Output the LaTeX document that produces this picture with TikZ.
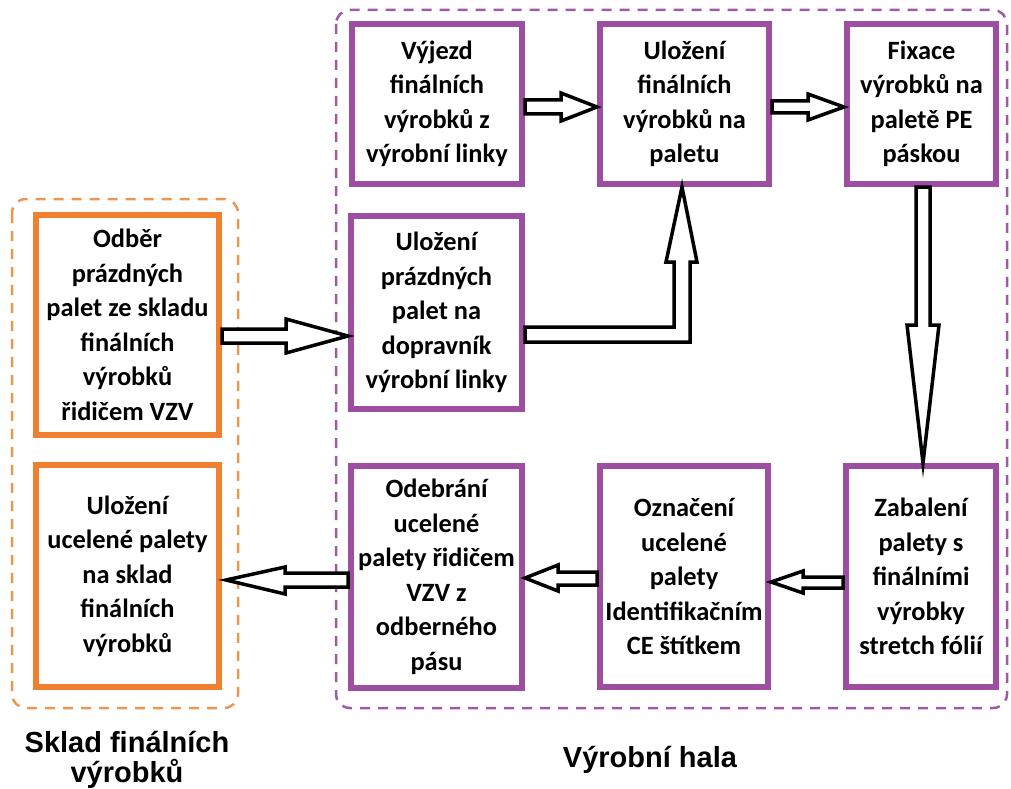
\documentclass[tikz,border=0pt]{standalone}
\usepackage{fontspec}
\usetikzlibrary{calc}
\setmainfont{Carlito}
\newfontfamily\labelfont{Liberation Sans}
\definecolor{boxpurple}{RGB}{157,78,160}
\definecolor{boxorange}{RGB}{240,128,48}
\definecolor{dashpurple}{RGB}{160,90,165}
\definecolor{dashorange}{RGB}{236,150,80}
\begin{document}
\begin{tikzpicture}[x=1pt,y=-1pt,
  stepbox/.style={draw=#1, line width=6pt, fill=white, inner sep=0pt, align=center,
    font=\bfseries\fontsize{26.4}{34.5}\selectfont},
  pbox/.style={stepbox=boxpurple},
  obox/.style={stepbox=boxorange},
  zone/.style={draw=#1, line width=2.5pt, dash pattern=on 10pt off 8pt, rounded corners=14pt},
  blockarrow/.style={draw=black, line width=3.5pt, fill=white, line join=miter, miter limit=20},
  zonelabel/.style={font=\labelfont\bfseries\fontsize{29}{30}\selectfont, align=center, inner sep=0pt}
]
\useasboundingbox (0,0) rectangle (1011,789);

% zones
\draw[zone=dashorange] (12,199) rectangle (238,708);
\draw[zone=dashpurple] (336,10) rectangle (1007,708);

% boxes
\node[obox, minimum width=183pt, minimum height=220pt] (A) at (127.5,325) {Odběr\\prázdných\\palet ze skladu\\finálních\\výrobků\\řidičem VZV};
\node[obox, minimum width=183pt, minimum height=222pt] (B) at (127.5,576) {Uložení\\ucelené palety\\na sklad\\finálních\\výrobků};
\node[pbox, minimum width=170pt, minimum height=160pt] (C) at (437,104) {Výjezd\\finálních\\výrobků z\\výrobní linky};
\node[pbox, minimum width=169pt, minimum height=160pt] (D) at (684.5,104) {Uložení\\finálních\\výrobků na\\paletu};
\node[pbox, minimum width=149pt, minimum height=160pt] (E) at (921.5,104) {Fixace\\výrobků na\\paletě PE\\páskou};
\node[pbox, minimum width=171pt, minimum height=193pt] (F) at (436.5,312.5) {Uložení\\prázdných\\palet na\\dopravník\\výrobní linky};
\node[pbox, minimum width=171pt, minimum height=222pt] (G) at (436.5,577) {Odebrání\\ucelené\\palety řidičem\\VZV z\\odberného\\pásu};
\node[pbox, minimum width=168pt, minimum height=221pt] (H) at (684,576.5) {Označení\\ucelené\\palety\\Identifikačním\\CE štítkem};
\node[pbox, minimum width=150pt, minimum height=221pt] (I) at (921,576.5) {Zabalení\\palety s\\finálními\\výrobky\\stretch fólií};

% arrows
% A -> F
\draw[blockarrow] (A.east |- 0,329) -- (286,329) -- (286,319) -- (F.west |- 0,336)
  -- (286,353) -- (286,343) -- (A.east |- 0,343) -- cycle;
% C -> D
\draw[blockarrow] (C.east |- 0,100) -- (561,100) -- (561,93) -- (D.west |- 0,107)
  -- (561,121) -- (561,114) -- (C.east |- 0,114) -- cycle;
% D -> E
\draw[blockarrow] (D.east |- 0,101) -- (808,101) -- (808,94) -- (E.west |- 0,107)
  -- (808,120) -- (808,113) -- (D.east |- 0,113) -- cycle;
% E -> I
\draw[blockarrow] (916,0 |- E.south) -- (916,325) -- (907,325) -- (923,0 |- I.north)
  -- (939,325) -- (930,325) -- (930,0 |- E.south) -- cycle;
% F -> D
\draw[blockarrow] (F.east |- 0,327) -- (674,327) -- (674,262) -- (666,262) -- (682,0 |- D.south)
  -- (697,262) -- (690,262) -- (690,342) -- (F.east |- 0,342) -- cycle;
% I -> H
\draw[blockarrow] (I.west |- 0,577) -- (803,577) -- (803,571) -- (H.east |- 0,582)
  -- (803,593) -- (803,588) -- (I.west |- 0,588) -- cycle;
% H -> G
\draw[blockarrow] (H.west |- 0,572) -- (558,572) -- (558,565) -- (G.east |- 0,578)
  -- (558,591) -- (558,585) -- (H.west |- 0,585) -- cycle;
% G -> B
\draw[blockarrow] (G.west |- 0,573) -- (285,573) -- (285,567) -- ($(B.east |- 0,580)+(4,0)$)
  -- (285,594) -- (285,587) -- (G.west |- 0,587) -- cycle;

% zone labels
\node[zonelabel, anchor=base] (L1) at (127,782) {Sklad finálních\\výrobků};
\node[zonelabel, anchor=base] (L2) at (650,767) {Výrobní hala};
\end{tikzpicture}
\end{document}
